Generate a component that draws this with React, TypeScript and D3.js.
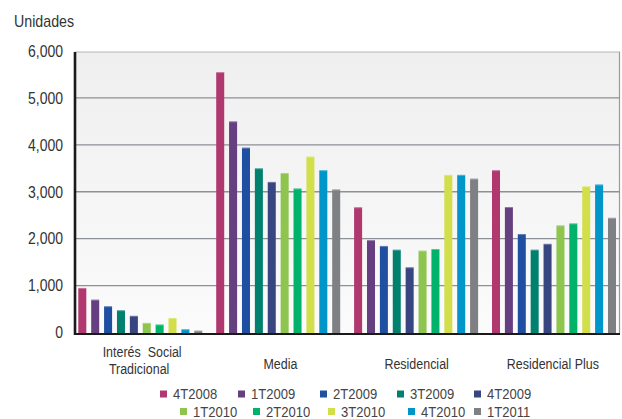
import React from "react";
import * as d3 from "d3";

const categories = ["Interés  Social|Tradicional", "Media", "Residencial", "Residencial Plus"];
const series = ["4T2008", "1T2009", "2T2009", "3T2009", "4T2009", "1T2010", "2T2010", "3T2010", "4T2010", "1T2011"];
const colors = ["#b0386f", "#653f7f", "#1e4fa1", "#00806f", "#374581", "#8dc54f", "#00b26a", "#d2df4a", "#0096c9", "#7f8083"];
// values[category][series]
const interesSocial = [950, 700, 560, 475, 355, 205, 170, 310, 70, 40];
const media = [5550, 4500, 3940, 3500, 3210, 3400, 3070, 3750, 3460, 3050];
const residencial = [2670, 1970, 1845, 1765, 1390, 1745, 1780, 3360, 3360, 3280];
const residencialPlus = [3460, 2675, 2100, 1765, 1890, 2285, 2325, 3115, 3155, 2445];
const values = [interesSocial, media, residencial, residencialPlus];
const yTicks = [0, 1000, 2000, 3000, 4000, 5000, 6000];

const legendRow1 = [160, 238, 320, 397, 474];
const legendRow2 = [180, 253, 328, 408, 474];

function T(props: { x: number; y: number; sx: number; size: number; anchor?: string; fill?: string; dy?: string; children: any }) {
  const { x, y, sx, size, anchor, fill, dy, children } = props;
  return (
    <text
      transform={`translate(${x},${y}) scale(${sx},1)`}
      textAnchor={anchor || "start"}
      fontSize={size}
      fill={fill || "#333"}
      dy={dy}
      style={{ whiteSpace: "pre" }}
    >
      {children}
    </text>
  );
}

export default function App() {
  const W = 622, H = 419;
  const plotL = 75, plotR = 620, plotT = 52, base = 333;
  const y = d3.scaleLinear().domain([0, 6000]).range([332.5, 51]);
  const xBars = d3.scaleBand<string>().domain(categories).range([78.3, 78.3 + 4 * 137.9]).padding(0);
  const x1 = d3.scaleBand<string>().domain(series).range([0, 124]).paddingInner(0.378).paddingOuter(0);
  const xLab = d3.scaleBand<string>().domain(categories).range([plotL, plotR]);
  const font = "'Liberation Sans', Arial, sans-serif";

  return (
    <svg width={W} height={H} style={{ position: "absolute", left: 0, top: 0 }} fontFamily={font}>
      <defs>
        <linearGradient id="bg" x1="0" y1="0" x2="0" y2="1">
          <stop offset="0" stopColor="#efefef" />
          <stop offset="1" stopColor="#fbfbfb" />
        </linearGradient>
      </defs>
      <rect width={W} height={H} fill="#ffffff" />
      <rect x={plotL} y={plotT} width={plotR - plotL} height={base - plotT} fill="url(#bg)" />
      <line x1={plotL} x2={plotR} y1={plotT} y2={plotT} stroke="#b5b5b5" strokeWidth={1.2} />
      <line x1={plotR - 0.5} x2={plotR - 0.5} y1={plotT} y2={base} stroke="#9a9a9a" strokeWidth={1.2} />
      {yTicks.slice(1, 6).map((t) => (
        <line key={t} x1={plotL} x2={plotR} y1={y(t)} y2={y(t)} stroke="#8c9198" strokeWidth={1.4} />
      ))}
      {values.map((vals, ci) =>
        vals.map((v, si) => {
          const bx = (xBars(categories[ci]) as number) + (x1(series[si]) as number);
          const top = y(v);
          return (
            <g key={ci + "-" + si}>
              <rect x={bx} y={top} width={x1.bandwidth()} height={334 - top} fill={colors[si]} />
              <rect x={bx} y={top} width={x1.bandwidth()} height={1} fill="#ffffff" opacity={0.3} />
            </g>
          );
        })
      )}
      <line x1={plotL} x2={plotR} y1={334} y2={334} stroke="#1a1a1a" strokeWidth={2.2} />
      <line x1={plotL} x2={plotL} y1={plotT} y2={335} stroke="#1a1a1a" strokeWidth={2.6} />
      {yTicks.map((t) => (
        <T key={t} x={63} y={y(t)} dy="0.36em" anchor="end" size={16} sx={0.875}>
          {d3.format(",")(t)}
        </T>
      ))}
      <T x={14} y={27} size={16} sx={0.89}>Unidades</T>
      {categories.map((c) => {
        const cx = (xLab(c) as number) + xLab.bandwidth() / 2;
        const lines = c.split("|");
        if (lines.length === 2) {
          return (
            <g key={c}>
              <T x={cx - 1} y={357} anchor="middle" size={14.5} sx={0.86}>{lines[0]}</T>
              <T x={cx - 4} y={373.5} anchor="middle" size={14.5} sx={0.86}>{lines[1]}</T>
            </g>
          );
        }
        return (
          <T key={c} x={cx + 1} y={369} anchor="middle" size={14.5} sx={0.86}>{c}</T>
        );
      })}
      {series.map((s, i) => {
        const row = i < 5 ? 0 : 1;
        const lx = row === 0 ? legendRow1[i] : legendRow2[i - 5];
        const ly = row === 0 ? 394 : 411.5;
        return (
          <g key={s}>
            <rect x={lx} y={ly - 3.5} width={7} height={7} fill={colors[i]} />
            <T x={lx + 13} y={ly} dy="0.36em" size={14.5} sx={0.9} fill="#444">{s}</T>
          </g>
        );
      })}
    </svg>
  );
}
